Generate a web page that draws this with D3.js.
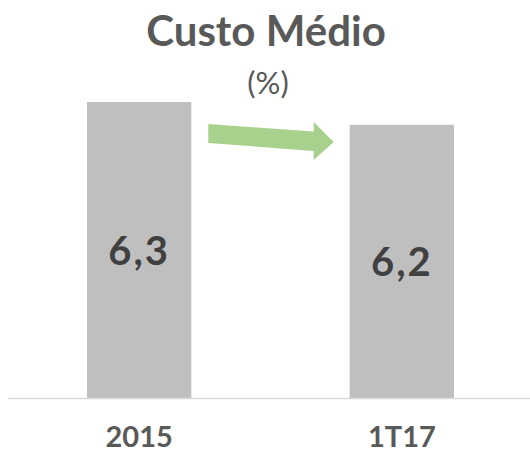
<!DOCTYPE html>
<html><head><meta charset="utf-8">
<script src="https://cdn.jsdelivr.net/npm/d3@7"></script>
<style>html,body{margin:0;padding:0;background:#fff;}</style>
</head><body>
<svg id="c" width="530" height="452"></svg>
<script>
const categories = ["2015", "1T17"];
const values = [6.3, 6.2];
const labels = ["6,3", "6,2"];
const title = "Custo Médio";
const subtitle = "(%)";

const svg = d3.select("#c");
const W = 530, H = 452;
const baseY = 398, topY = 102;
const font = "Lato, 'Open Sans', sans-serif";

const x = d3.scaleBand().domain(categories).range([87, 454]).paddingInner(0.603).paddingOuter(0);
const y = d3.scaleLinear().domain([5, 6.3]).range([baseY, topY]);

svg.append("text").attr("x", 266).attr("y", 46).attr("text-anchor", "middle")
  .attr("font-family", font).attr("font-weight", "bold").attr("font-size", 42)
  .attr("fill", "#595959").text(title);
svg.append("text").attr("x", 268).attr("y", 94).attr("text-anchor", "middle")
  .attr("font-family", font).attr("font-weight", "normal").attr("font-size", 31)
  .attr("fill", "#595959").text(subtitle);

svg.selectAll("rect.bar").data(values).join("rect").attr("class", "bar")
  .attr("x", (d, i) => x(categories[i])).attr("width", x.bandwidth())
  .attr("y", d => y(d)).attr("height", d => baseY - y(d)).attr("fill", "#bfbfbf");

svg.append("line").attr("x1", 8).attr("x2", W).attr("y1", baseY + 0.5).attr("y2", baseY + 0.5)
  .attr("stroke", "#d9d9d9").attr("stroke-width", 1.5);

svg.selectAll("text.val").data(values).join("text").attr("class", "val")
  .attr("x", (d, i) => x(categories[i]) + x.bandwidth() / 2)
  .attr("y", d => (y(d) + baseY) / 2 + 15)
  .attr("text-anchor", "middle").attr("font-family", font).attr("font-weight", "bold")
  .attr("font-size", 40).attr("fill", "#404040").attr("letter-spacing", 2)
  .text((d, i) => labels[i]);

svg.selectAll("text.cat").data(categories).join("text").attr("class", "cat")
  .attr("x", d => x(d) + x.bandwidth() / 2).attr("y", 447)
  .attr("text-anchor", "middle").attr("font-family", font).attr("font-weight", "bold")
  .attr("font-size", 29).attr("fill", "#595959").text(d => d);

// arrow annotation between bars
const ax0 = x(categories[0]) + x.bandwidth() + 17;
const ax1 = x(categories[1]) - 16;
const headX = ax1 - 20;
const arrow = d3.path();
arrow.moveTo(ax0, 124);
arrow.lineTo(headX, 131.5);
arrow.lineTo(headX, 122);
arrow.lineTo(ax1, 142);
arrow.lineTo(headX, 160);
arrow.lineTo(headX, 151);
arrow.lineTo(ax0, 143);
arrow.closePath();
svg.append("path").attr("d", arrow.toString()).attr("fill", "#a9d18e");
</script>
</body></html>
